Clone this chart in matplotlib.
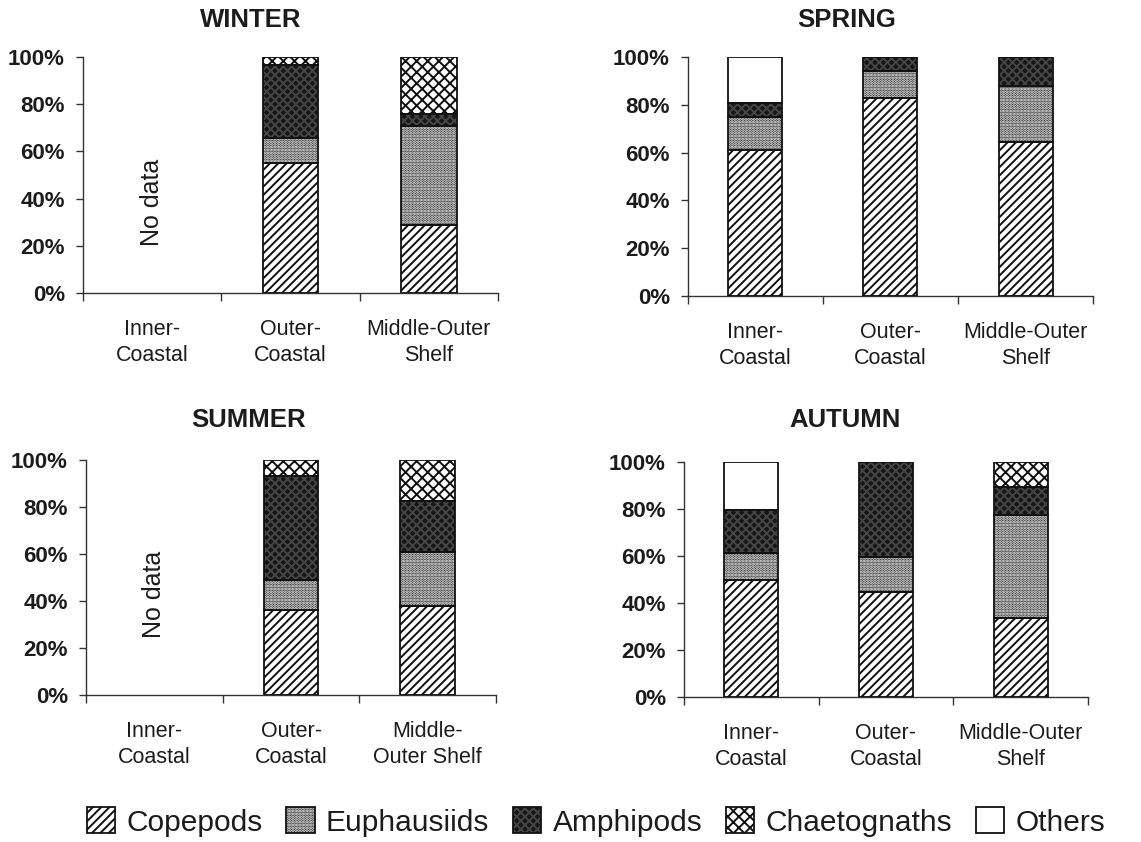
import numpy as np
import matplotlib
matplotlib.use("Agg")
import matplotlib.pyplot as plt
from matplotlib.patches import Patch
from matplotlib.legend_handler import HandlerTuple

plt.rcParams['font.family'] = ['Liberation Sans', 'DejaVu Sans']
plt.rcParams['hatch.linewidth'] = 1.4
TXT = '#1c1c1c'

# ---------------- data ----------------
species = ["Copepods", "Euphausiids", "Amphipods", "Chaetognaths", "Others"]
regions = ["Inner-\nCoastal", "Outer-\nCoastal", "Middle-Outer\nShelf"]
regions_summer = ["Inner-\nCoastal", "Outer-\nCoastal", "Middle-\nOuter Shelf"]
seasons = ["WINTER", "SPRING", "SUMMER", "AUTUMN"]

# percent contribution, rows = species, columns = regions (Inner, Outer, Middle-Outer)
winter = [[0, 55.0, 29.0],
          [0, 10.7, 41.8],
          [0, 30.8, 5.2],
          [0, 3.5, 24.0],
          [0, 0.0, 0.0]]
spring = [[61.0, 83.0, 64.5],
          [13.7, 11.0, 23.3],
          [5.9, 6.0, 12.2],
          [0.0, 0.0, 0.0],
          [19.4, 0.0, 0.0]]
summer = [[0, 36.0, 38.0],
          [0, 13.0, 23.0],
          [0, 44.0, 21.7],
          [0, 7.0, 17.3],
          [0, 0.0, 0.0]]
autumn = [[49.6, 44.5, 33.8],
          [11.7, 15.1, 43.5],
          [18.4, 40.4, 12.1],
          [0.0, 0.0, 10.6],
          [20.3, 0.0, 0.0]]
no_data = {"WINTER": (0, 38.5), "SUMMER": (0, 43.0)}

season_data = {"WINTER": winter, "SPRING": spring, "SUMMER": summer, "AUTUMN": autumn}

# ---------------- styles ----------------
face = ['white', '#2a2a2a', '#161616', 'white', 'white']
hcol = ['#111111', '#ffffff', '#454545', '#111111', '#111111']
hatch = ['////', '......', 'xxxx', 'xxx', None]

W, H = 1141, 842
fig = plt.figure(figsize=(W / 100, H / 100), dpi=100)

# axes boxes in pixels: left, right, top, bottom
boxes = {"WINTER": (83, 498, 57, 293),
         "SPRING": (688, 1093, 57, 296),
         "SUMMER": (86, 496, 460, 695),
         "AUTUMN": (684, 1088, 462, 697)}
titles_pos = {"WINTER": (251, 20), "SPRING": (847, 20),
              "SUMMER": (249, 420), "AUTUMN": (845, 420)}

x = np.arange(3)
bw = 0.4
for s in seasons:
    l, r, t, b = boxes[s]
    ax = fig.add_axes([l / W, 1 - b / H, (r - l) / W, (b - t) / H])
    data = np.array(season_data[s], dtype=float)
    bottom = np.zeros(3)
    for i, sp in enumerate(species):
        vals = data[i]
        mask = vals > 0
        if mask.any():
            ax.bar(x[mask], vals[mask], bw, bottom=bottom[mask], color=face[i],
                   edgecolor=hcol[i], hatch=hatch[i], linewidth=0, zorder=2)
            ax.bar(x[mask], vals[mask], bw, bottom=bottom[mask], facecolor='none',
                   edgecolor='#111111', linewidth=1.3, zorder=3)
        bottom += vals
    ax.set_xlim(-0.5, 2.5)
    ax.set_ylim(0, 100)
    for sp_ in ['top', 'right']:
        ax.spines[sp_].set_visible(False)
    for sp_ in ['left', 'bottom']:
        ax.spines[sp_].set_linewidth(1.0)
        ax.spines[sp_].set_color('#333333')
    ax.set_yticks(np.arange(0, 101, 20))
    ax.set_yticklabels([f"{v}%" for v in range(0, 101, 20)], fontsize=16,
                       fontweight='bold', color=TXT)
    ax.tick_params(axis='y', direction='out', length=5, width=1, pad=8, color='#333333')
    ax.set_xticks(x)
    ax.set_xticklabels(regions_summer if s == "SUMMER" else regions, fontsize=15.5, color=TXT)
    ax.tick_params(axis='x', which='major', length=0, pad=19)
    ax.set_xticks([-0.5, 0.5, 1.5, 2.5], minor=True)
    ax.tick_params(axis='x', which='minor', direction='out', length=6, width=1, color='#333333')
    for lbl in ax.get_xticklabels():
        lbl.set_linespacing(1.3)
    if s in no_data:
        nx, ny = no_data[s]
        ax.text(nx, ny, "No data", rotation=90, ha='center', va='center',
                fontsize=18, color=TXT)
    tx, ty = titles_pos[s]
    fig.text(tx / W, 1 - ty / H, s, ha='center', va='center', fontsize=18.5,
             fontweight='bold', color=TXT)

handles = []
for i in range(5):
    h1 = Patch(facecolor=face[i], edgecolor=hcol[i], hatch=hatch[i], linewidth=0)
    h2 = Patch(facecolor='none', edgecolor='#111111', linewidth=1.3)
    handles.append((h1, h2))
fig.legend(handles, species, loc='center', bbox_to_anchor=(596 / W, 1 - 822 / H),
           ncol=5, frameon=False, fontsize=21.5, handlelength=0.95, handleheight=0.95,
           handletextpad=0.37, columnspacing=0.8, borderaxespad=0,
           handler_map={tuple: HandlerTuple(ndivide=1, pad=0)}, labelcolor=TXT)

fig.savefig("out.png", dpi=100, facecolor='white')
